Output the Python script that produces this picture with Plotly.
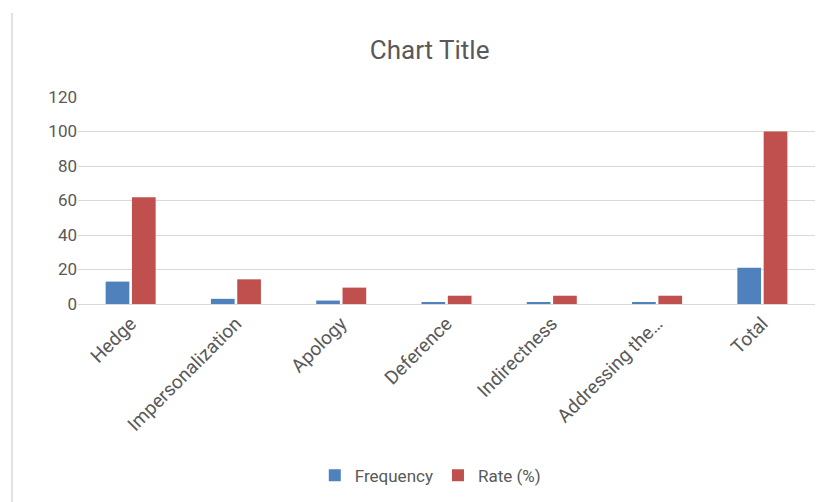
import plotly.graph_objects as go

categories = ["Hedge", "Impersonalization", "Apology", "Deference", "Indirectness", "Addressing the…", "Total"]
frequency = [13, 3, 2, 1, 1, 1, 21]
rate = [61.9, 14.3, 9.5, 4.8, 4.8, 4.8, 100]
y_ticks = [0, 20, 40, 60, 80, 100, 120]

FONT = "Roboto, Liberation Sans, sans-serif"
GRAY = "#595959"

fig = go.Figure()
fig.add_trace(go.Bar(name="Frequency", x=categories, y=frequency, marker_color="#4F81BD",
                     marker_line_width=0))
fig.add_trace(go.Bar(name="Rate (%)", x=categories, y=rate, marker_color="#C0504D",
                     marker_line_width=0))

fig.update_layout(
    width=831, height=502,
    margin=dict(l=78, r=16, t=97, b=198, autoexpand=False),
    paper_bgcolor="white", plot_bgcolor="white",
    barmode="group", bargap=0.5, bargroupgap=0.1,
    font=dict(family=FONT, color=GRAY, size=16),
    title=dict(text="Chart Title", x=0.517, xref="container", xanchor="center",
               y=1 - 50 / 502, yref="container", yanchor="middle",
               font=dict(size=26, color=GRAY, family=FONT)),
    showlegend=True,
    legend=dict(orientation="h", x=0.478, xanchor="center", y=-0.83, yanchor="middle",
                font=dict(size=17, color=GRAY, family=FONT), itemwidth=30,
                traceorder="normal"),
    xaxis=dict(tickangle=-45, showgrid=False, showline=True, linecolor="#D9D9D9",
               linewidth=1, ticks="", automargin=False,
               tickfont=dict(size=19, color=GRAY)),
    yaxis=dict(range=[0, 120], tickvals=y_ticks, showgrid=True, gridcolor="#D9D9D9",
               zeroline=False, showline=False, ticks="", ticklen=0, automargin=False,
               tickfont=dict(size=17, color=GRAY)),
    shapes=[dict(type="line", xref="paper", yref="paper",
                 x0=(12 - 78) / 737, x1=(12 - 78) / 737,
                 y0=(502 - 198 - 13) / 207, y1=-(502 - 304) / 207,
                 line=dict(color="#D9D9D9", width=1.5))],
)

fig.write_html("out.html")
